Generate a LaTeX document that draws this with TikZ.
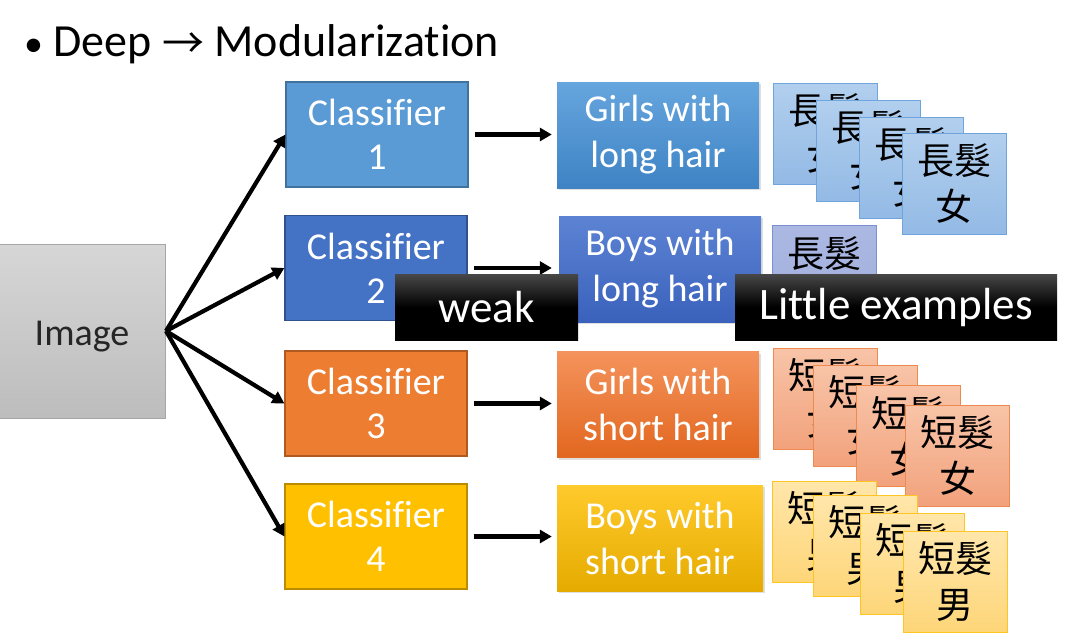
\documentclass[tikz,border=0pt]{standalone}
\usepackage{fontspec}
\setmainfont{Carlito}[Ligatures=NoCommon]
\newfontfamily\cjk{Noto Sans CJK TC}
\usetikzlibrary{arrows.meta,shadows}
\definecolor{cA}{HTML}{5B9BD5}\definecolor{cAb}{HTML}{41719C}
\definecolor{cB}{HTML}{4472C4}\definecolor{cBb}{HTML}{2F528F}
\definecolor{cC}{HTML}{ED7D31}\definecolor{cCb}{HTML}{AE5A21}
\definecolor{cD}{HTML}{FFC000}\definecolor{cDb}{HTML}{BC8C00}
\definecolor{tAt}{HTML}{66A6DE}\definecolor{tAb}{HTML}{3F83C5}
\definecolor{tBt}{HTML}{5C83D3}\definecolor{tBb}{HTML}{3A62BC}
\definecolor{tCt}{HTML}{F4935C}\definecolor{tCb}{HTML}{E2671F}
\definecolor{tDt}{HTML}{FFCA2C}\definecolor{tDb}{HTML}{E5AB00}
\definecolor{kAt}{HTML}{B2CFEE}\definecolor{kAb}{HTML}{93BAE5}\definecolor{kAd}{HTML}{6FA5DC}
\definecolor{kBt}{HTML}{ABB8E2}\definecolor{kBb}{HTML}{A0AEDC}\definecolor{kBd}{HTML}{7B8FD2}
\definecolor{kCt}{HTML}{F8C4A8}\definecolor{kCb}{HTML}{F2A27C}\definecolor{kCd}{HTML}{EE8A4E}
\definecolor{kDt}{HTML}{FFE6AA}\definecolor{kDb}{HTML}{FED679}\definecolor{kDd}{HTML}{FFC425}
\begin{document}
\begin{tikzpicture}[x=1pt,y=-1pt,
  clsbox/.style={rectangle, inner sep=0pt, minimum width=182pt, minimum height=105pt,
    text=white, align=center, font=\fontsize{38}{44}\selectfont, line width=1.2pt},
  tgtbox/.style={rectangle, inner sep=0pt, minimum width=202pt, minimum height=106pt,
    text=white, align=center, font=\fontsize{38}{46}\selectfont,
    drop shadow={opacity=0.25, shadow xshift=2pt, shadow yshift=-2pt}},
  card/.style={rectangle, inner sep=0pt, minimum width=104pt, minimum height=101pt,
    align=center, font=\cjk\fontsize{37}{46}\selectfont, line width=1pt, text=black},
  blabel/.style={rectangle, inner sep=0pt, minimum height=66pt, top color=black!72,
    bottom color=black, middle color=black, text=white, font=\fontsize{45}{50}\selectfont},
  arr/.style={line width=4.2pt, -{Triangle[length=12pt,width=13pt]}}
]
\useasboundingbox (0,0) rectangle (1069,635);
\fill[white] (0,0) rectangle (1069,635);

\node[anchor=base west, inner sep=0pt, font=\fontsize{46}{50}\selectfont] (title) at (24,56)
  {{\fontsize{38}{40}\selectfont •} Deep {\cjk\fontsize{42}{50}\selectfont\raisebox{-2pt}{→}} Modularization};

\node[rectangle, inner sep=0pt, minimum width=167pt, minimum height=174pt,
  top color=black!16, bottom color=black!26, draw=black!35, line width=1pt,
  text=black!85, font=\fontsize{38}{44}\selectfont, text depth=0pt] (img) at (82,331) {\raisebox{-5pt}{Image}};

\node[clsbox, fill=cA, draw=cAb] (c1) at (377,134.5) {Classifier\\1};
\node[clsbox, fill=cB, draw=cBb] (c2) at (376,268) {Classifier\\2};
\node[clsbox, fill=cC, draw=cCb] (c3) at (376,403.5) {Classifier\\3};
\node[clsbox, fill=cD, draw=cDb] (c4) at (376,536.5) {Classifier\\4};

\node[tgtbox, top color=tAt, bottom color=tAb] (t1) at (658,135) {Girls with\\long hair};
\node[tgtbox, top color=tBt, bottom color=tBb] (t2) at (660,269) {Boys with\\long hair};
\node[tgtbox, top color=tCt, bottom color=tCb] (t3) at (658,404.5) {Girls with\\short hair};
\node[tgtbox, top color=tDt, bottom color=tDb, minimum width=206pt] (t4) at (660,538) {Boys with\\short hair};

\foreach \c in {c1,c2,c3,c4}{\draw[arr] (img.east) -- (\c.west);}
\draw[arr, shorten <=6pt, shorten >=5pt] (c1.east) -- (c1.east -| t1.west);
\draw[arr, shorten <=6pt, shorten >=7pt] (c2.east) -- (c2.east -| t2.west);
\draw[arr, shorten <=6pt, shorten >=5pt] (c3.east) -- (c3.east -| t3.west);
\draw[arr, shorten <=6pt, shorten >=5pt] (c4.east) -- (c4.east -| t4.west);

% row 1 cards
\node[card, top color=kAt, bottom color=kAb, draw=kAd] (a1) at (825,133.5) {長髮\\女};
\node[card, top color=kAt, bottom color=kAb, draw=kAd] (a2) at (868,150.5) {長髮\\女};
\node[card, top color=kAt, bottom color=kAb, draw=kAd] (a3) at (911,168) {長髮\\女};
\node[card, top color=kAt, bottom color=kAb, draw=kAd] (a4) at (954,184) {長髮\\女};
% row 2 card
\node[card, top color=kBt, bottom color=kBb, draw=kBd] (b1) at (824,275.5) {長髮\\\mbox{}};
% row 3 cards
\node[card, top color=kCt, bottom color=kCb, draw=kCd] (d1) at (825,398.5) {短髮\\女};
\node[card, top color=kCt, bottom color=kCb, draw=kCd] (d2) at (865,415.5) {短髮\\女};
\node[card, top color=kCt, bottom color=kCb, draw=kCd] (d3) at (908,436) {短髮\\女};
\node[card, top color=kCt, bottom color=kCb, draw=kCd] (d4) at (957.5,455.5) {短髮\\女};
% row 4 cards
\node[card, top color=kDt, bottom color=kDb, draw=kDd] (e1) at (824.5,531.5) {短髮\\男};
\node[card, top color=kDt, bottom color=kDb, draw=kDd] (e2) at (865,545.5) {短髮\\男};
\node[card, top color=kDt, bottom color=kDb, draw=kDd] (e3) at (912,563.5) {短髮\\男};
\node[card, top color=kDt, bottom color=kDb, draw=kDd] (e4) at (955,581.5) {短髮\\男};

\node[blabel, minimum width=183pt] (weak) at (486.5,307.5) {\raisebox{-3pt}{weak}};
\node[blabel, minimum width=322pt] (little) at (896,307) {\raisebox{-3pt}{Little examples}};
\end{tikzpicture}
\end{document}
